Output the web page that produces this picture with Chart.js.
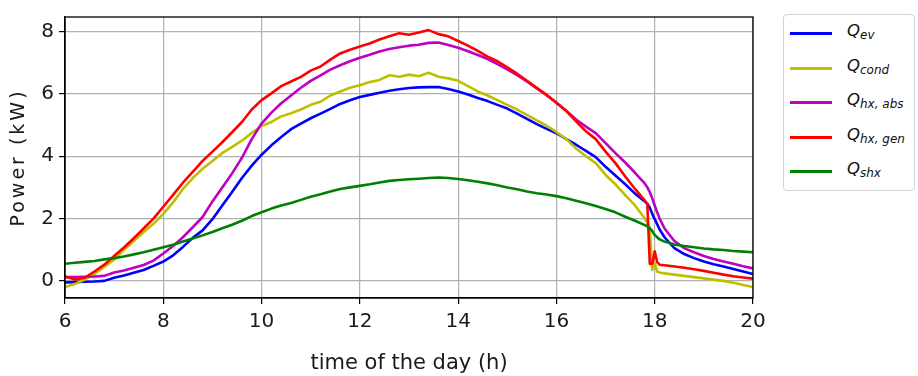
<!DOCTYPE html>
<html>
<head>
<meta charset="utf-8">
<script src="https://cdn.jsdelivr.net/npm/chart.js@4/dist/chart.umd.min.js"></script>
<style>
html,body{margin:0;padding:0;background:#fff;}
#wrap{position:relative;width:918px;height:376px;overflow:hidden;}
#legend{position:absolute;left:783px;top:14px;width:132px;height:177px;border:1px solid #d4d4d4;border-radius:4px;box-sizing:border-box;background:#fff;font-family:"DejaVu Sans",sans-serif;color:#111;}
.row{position:absolute;left:0;width:100%;height:0;}
.sw{position:absolute;left:6px;top:-1px;width:42px;height:3px;}
.lb{position:absolute;left:63px;top:-11px;font-style:italic;font-size:16.5px;line-height:18px;white-space:nowrap;}
.lb sub{font-size:12px;vertical-align:-3px;line-height:0;}
</style>
</head>
<body>
<div id="wrap">
<canvas id="c" width="918" height="376"></canvas>
<div id="legend"></div>
</div>
<script>
// ---- data ----
const hours = [6.0,6.2,6.4,6.6,6.8,7.0,7.2,7.4,7.6,7.8,8.0,8.2,8.4,8.6,8.8,9.0,9.2,9.4,9.6,9.8,
  10.0,10.2,10.4,10.6,10.8,11.0,11.2,11.4,11.6,11.8,12.0,12.2,12.4,12.6,12.8,13.0,13.2,13.4,13.6,13.8,
  14.0,14.2,14.4,14.6,14.8,15.0,15.2,15.4,15.6,15.8,16.0,16.2,16.4,16.6,16.8,17.0,17.2,17.4,17.6,17.8,
  17.85,17.9,17.95,18.0,18.05,18.1,18.2,18.4,18.6,18.8,19.0,19.2,19.4,19.6,19.8,20.0];

const qEv = [-0.05,-0.04,-0.03,-0.02,0.0,0.1,0.17,0.26,0.35,0.48,0.62,0.82,1.09,1.38,1.62,1.98,2.42,2.85,3.3,3.7,
  4.05,4.35,4.62,4.87,5.05,5.22,5.37,5.52,5.68,5.8,5.9,5.97,6.04,6.1,6.15,6.19,6.21,6.22,6.22,6.16,
  6.08,5.98,5.87,5.77,5.65,5.53,5.37,5.2,5.03,4.88,4.74,4.55,4.37,4.17,3.97,3.66,3.38,3.1,2.8,2.55,
  2.48,2.35,2.15,1.98,1.82,1.65,1.4,1.05,0.86,0.73,0.62,0.53,0.46,0.38,0.3,0.22];

const qCond = [-0.2,-0.1,0.04,0.22,0.45,0.68,1.0,1.28,1.57,1.83,2.15,2.52,2.95,3.3,3.6,3.85,4.1,4.3,4.5,4.75,
  4.97,5.1,5.28,5.38,5.5,5.65,5.75,5.95,6.08,6.2,6.28,6.38,6.45,6.6,6.55,6.62,6.57,6.68,6.55,6.5,
  6.42,6.25,6.08,5.95,5.8,5.65,5.5,5.33,5.15,4.98,4.78,4.55,4.25,4.0,3.78,3.4,3.1,2.75,2.42,2.0,
  1.85,1.7,0.35,0.57,0.3,0.27,0.24,0.2,0.16,0.12,0.08,0.04,0.0,-0.06,-0.13,-0.2];

const qHxAbs = [0.12,0.12,0.13,0.14,0.16,0.27,0.33,0.42,0.51,0.65,0.88,1.12,1.4,1.72,2.05,2.55,3.0,3.45,3.95,4.55,
  5.05,5.4,5.7,5.95,6.2,6.42,6.6,6.78,6.92,7.05,7.16,7.26,7.36,7.44,7.5,7.55,7.58,7.64,7.65,7.57,
  7.48,7.37,7.25,7.12,6.96,6.79,6.6,6.4,6.18,5.96,5.72,5.46,5.18,4.95,4.74,4.42,4.1,3.8,3.47,3.12,
  3.0,2.85,2.65,2.42,2.2,2.0,1.68,1.28,1.05,0.92,0.8,0.7,0.62,0.55,0.47,0.4];

const qHxGen = [0.14,0.04,0.1,0.3,0.52,0.8,1.07,1.37,1.68,2.0,2.38,2.76,3.15,3.5,3.85,4.15,4.45,4.77,5.1,5.5,
  5.8,6.02,6.25,6.4,6.55,6.75,6.88,7.1,7.3,7.42,7.52,7.62,7.75,7.85,7.95,7.9,7.97,8.05,7.92,7.85,
  7.7,7.55,7.38,7.2,7.05,6.85,6.65,6.42,6.2,5.97,5.72,5.45,5.12,4.8,4.55,4.15,3.78,3.35,2.95,2.58,
  2.45,0.55,0.55,0.95,0.6,0.52,0.5,0.46,0.42,0.37,0.32,0.26,0.2,0.15,0.11,0.07];

const qShx = [0.55,0.58,0.61,0.64,0.69,0.73,0.78,0.85,0.92,1.0,1.08,1.16,1.26,1.36,1.46,1.57,1.69,1.8,1.93,2.08,
  2.2,2.32,2.42,2.5,2.6,2.7,2.78,2.87,2.95,3.0,3.05,3.1,3.16,3.21,3.24,3.26,3.28,3.3,3.32,3.3,
  3.27,3.23,3.18,3.13,3.07,3.0,2.94,2.87,2.81,2.77,2.72,2.65,2.57,2.49,2.4,2.31,2.2,2.06,1.93,1.79,
  1.75,1.68,1.6,1.47,1.4,1.33,1.26,1.17,1.12,1.08,1.04,1.01,0.99,0.96,0.94,0.92];

const seriesMain = ['Q','Q','Q','Q','Q'];
const seriesSub = ['ev','cond','hx, abs','hx, gen','shx'];
const seriesColors = ['#0000ff','#bfbf00','#bf00bf','#ff0000','#008000'];
const seriesValues = [qEv, qCond, qHxAbs, qHxGen, qShx];

const xTicks = [6,8,10,12,14,16,18,20];
const yTicks = [0,2,4,6,8];
const xTitle = 'time of the day (h)';
const yTitle = 'Power (kW)';

// ---- chart ----
const FONT = '"DejaVu Sans", sans-serif';
const datasets = seriesValues.map((vals, i) => ({
  label: seriesMain[i] + '_' + seriesSub[i],
  data: hours.map((h, k) => ({x: h, y: vals[k]})),
  borderColor: seriesColors[i],
  borderWidth: 2.6,
  pointRadius: 0,
  tension: 0,
  fill: false,
  borderJoinStyle: 'round',
  borderCapStyle: 'round',
  order: seriesValues.length - i
}));

const framePlugin = {
  id: 'frame',
  afterDatasetsDraw(chart) {
    const a = chart.chartArea, ctx = chart.ctx;
    ctx.save();
    ctx.strokeStyle = '#000';
    ctx.lineWidth = 1.3;
    ctx.strokeRect(a.left, a.top, a.right - a.left, a.bottom - a.top);
    ctx.restore();
  }
};

const yTitleSpacing = {
  id: 'yTitleSpacing',
  afterLayout(chart) {
    const s = chart.scales.y;
    if (s._patched) return;
    const orig = s.drawTitle;
    s.drawTitle = function () {
      const ctx = this.ctx;
      ctx.save();
      ctx.letterSpacing = '3px';
      orig.apply(this, arguments);
      ctx.restore();
    };
    s._patched = true;
  }
};

new Chart(document.getElementById('c'), {
  type: 'line',
  data: { datasets },
  plugins: [framePlugin, yTitleSpacing],
  options: {
    responsive: false,
    animation: false,
    layout: { padding: { left: 0, right: 165, top: 13, bottom: 0 } },
    plugins: { legend: { display: false }, tooltip: { enabled: false } },
    scales: {
      x: {
        type: 'linear',
        min: 6, max: 20,
        afterBuildTicks: s => { s.ticks = xTicks.map(v => ({ value: v })); },
        afterFit: s => { s.height = 78; },
        grid: { color: '#b0b0b0', lineWidth: 1.2, tickLength: 6, tickColor: '#000', tickWidth: 1.2 },
        border: { color: '#000', width: 1.3 },
        ticks: { color: '#1a1a1a', font: { family: FONT, size: 20 }, padding: 6, maxRotation: 0, autoSkip: false },
        title: { display: true, text: xTitle, color: '#1a1a1a', font: { family: FONT, size: 21 }, padding: { top: 0, bottom: 0 } }
      },
      y: {
        type: 'linear',
        min: -0.55, max: 8.47,
        afterBuildTicks: s => { s.ticks = yTicks.map(v => ({ value: v })); },
        afterFit: s => { s.width = 65; },
        grid: { color: '#b0b0b0', lineWidth: 1.2, tickLength: 6, tickColor: '#000', tickWidth: 1.2 },
        border: { color: '#000', width: 1.3 },
        ticks: { color: '#1a1a1a', font: { family: FONT, size: 20 }, padding: 5, autoSkip: false },
        title: { display: true, text: yTitle, color: '#1a1a1a', font: { family: FONT, size: 19 }, padding: { top: 8, bottom: 0 } }
      }
    }
  }
});

// ---- legend (HTML, real text) ----
const leg = document.getElementById('legend');
seriesSub.forEach((sub, i) => {
  const row = document.createElement('div');
  row.className = 'row';
  row.style.top = Math.round(18 + i * 34.6) + 'px';
  const sw = document.createElement('div');
  sw.className = 'sw';
  sw.style.background = seriesColors[i];
  const lb = document.createElement('div');
  lb.className = 'lb';
  const q = document.createElement('span');
  q.textContent = seriesMain[i];
  const s = document.createElement('sub');
  s.textContent = sub;
  lb.appendChild(q); lb.appendChild(s);
  row.appendChild(sw); row.appendChild(lb);
  leg.appendChild(row);
});
</script>
</body>
</html>
